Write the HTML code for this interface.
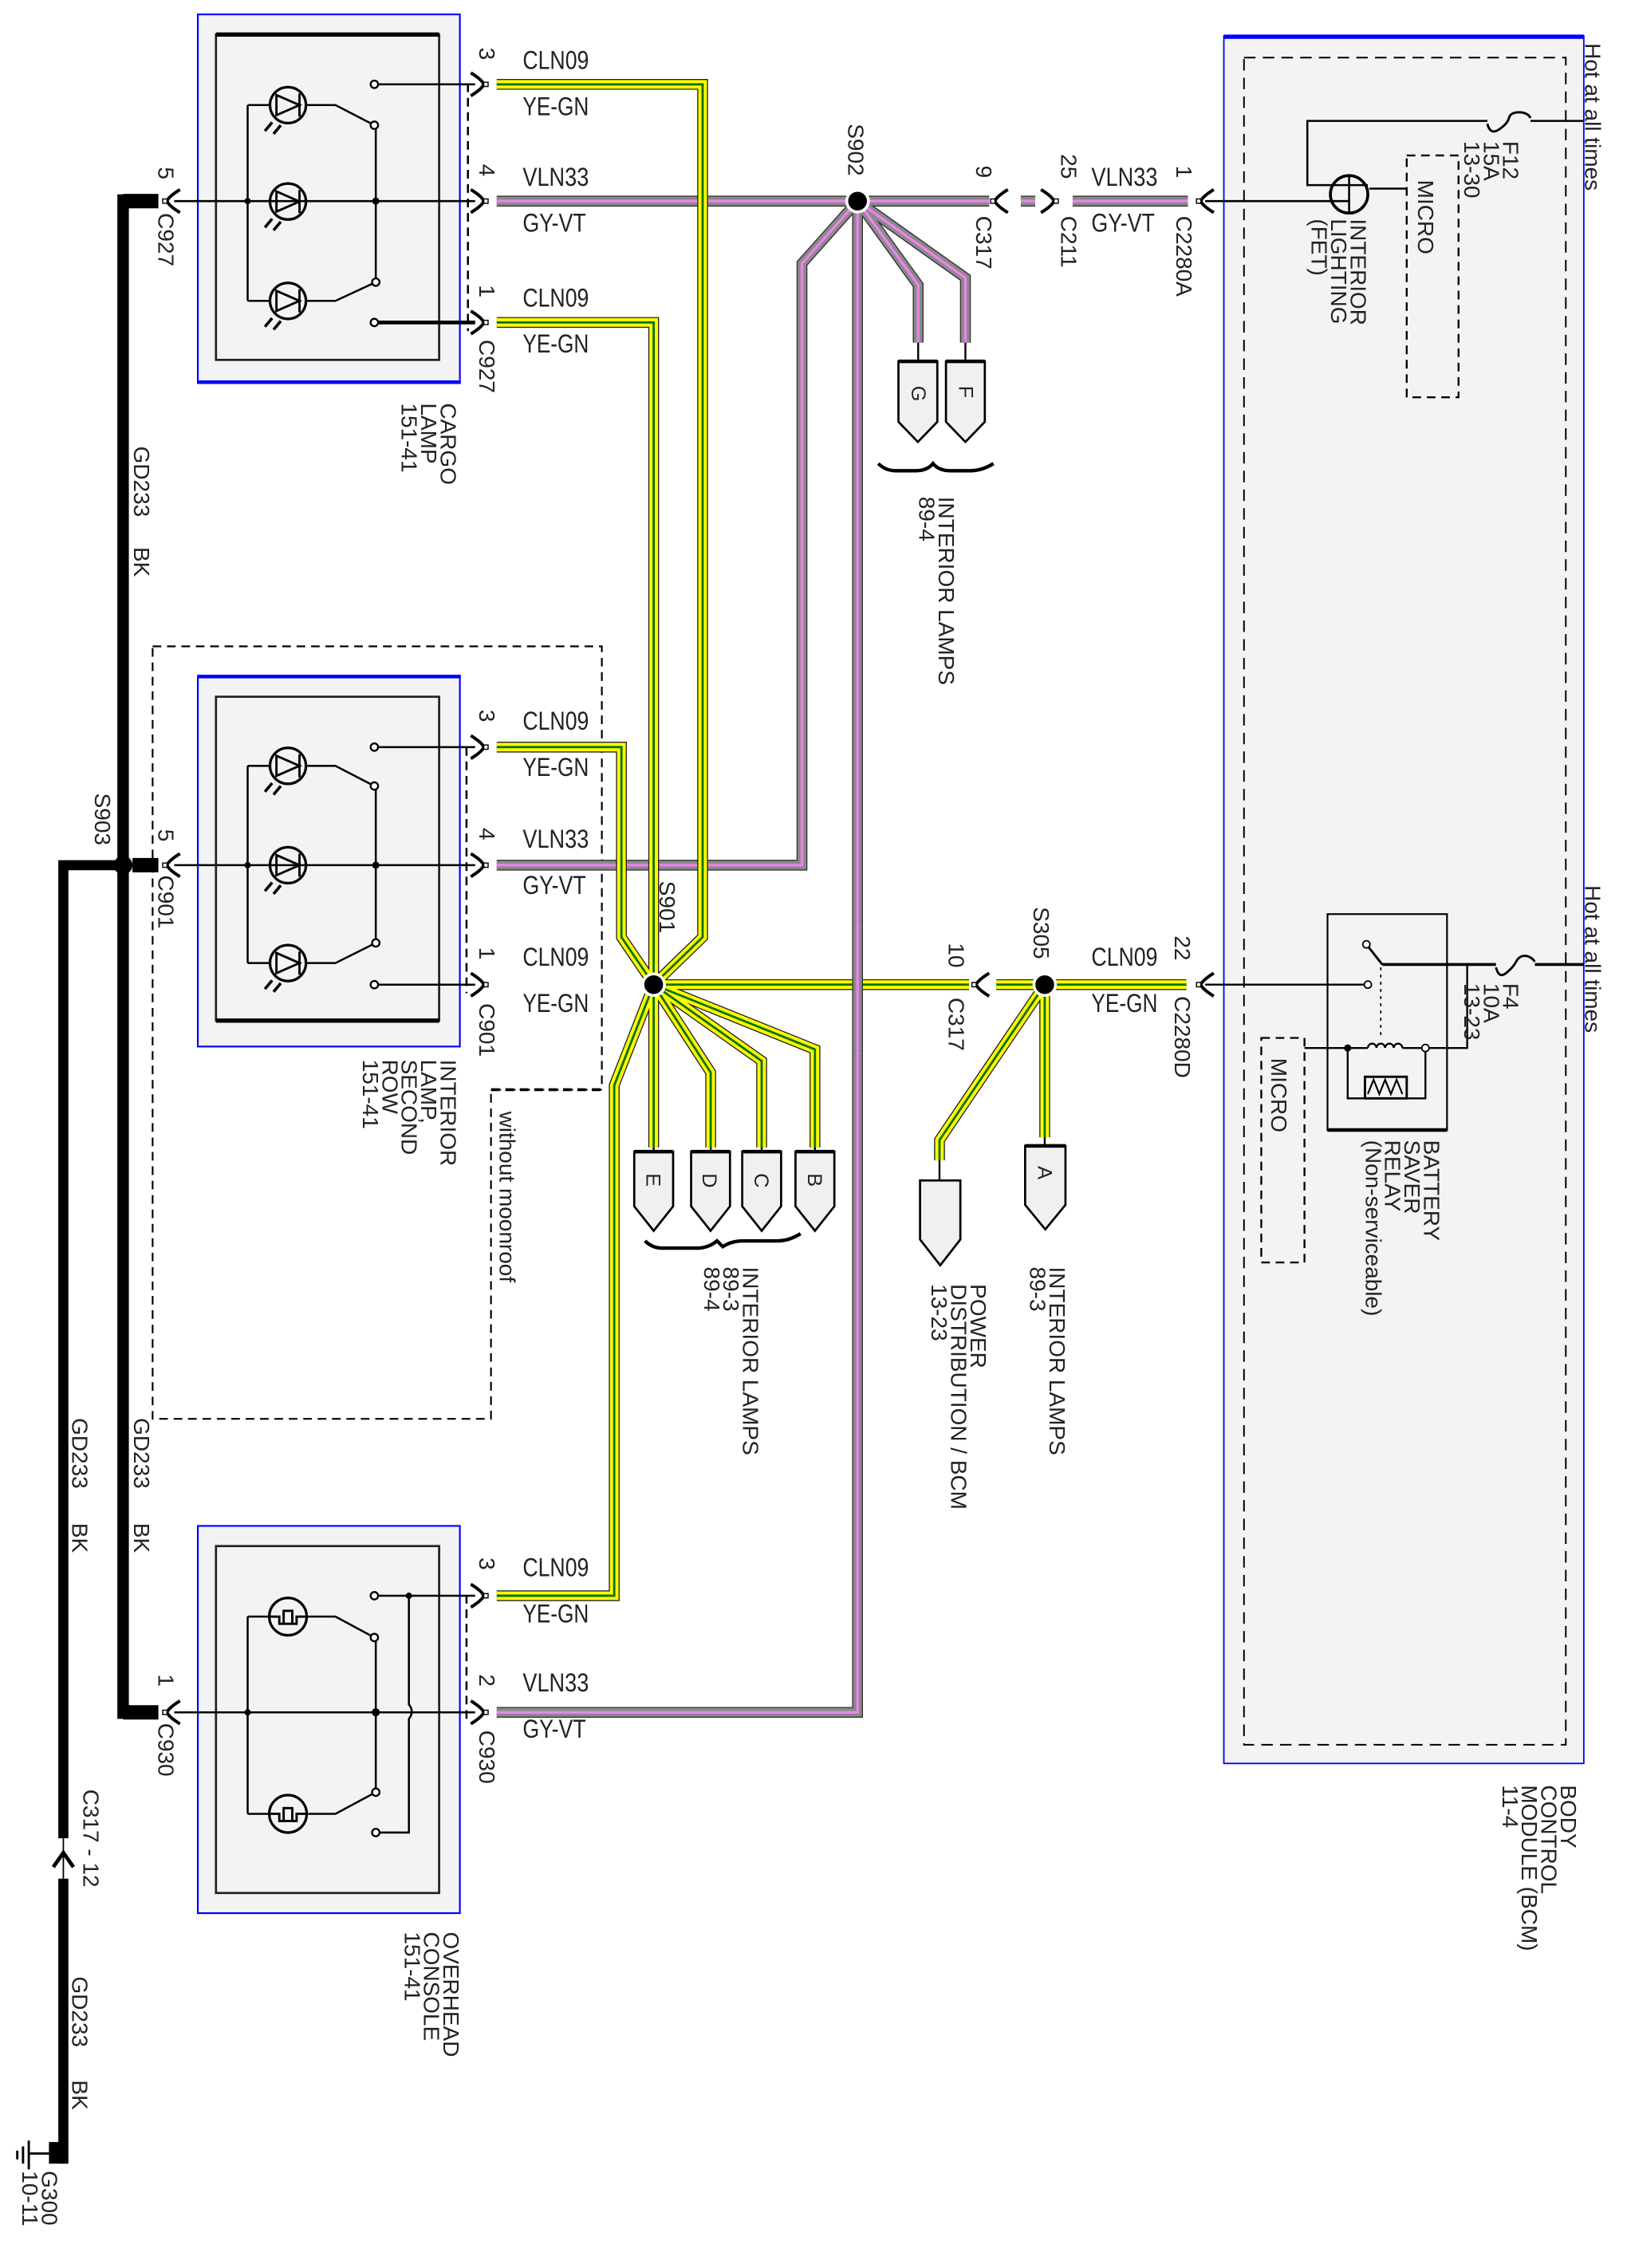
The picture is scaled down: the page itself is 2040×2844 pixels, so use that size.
<!DOCTYPE html>
<html><head><meta charset="utf-8"><style>
html,body{margin:0;padding:0;background:#fff}
svg{display:block}
text{font-family:"Liberation Sans",sans-serif;fill:#222}
.w{font-size:18px}
.r{font-size:15.5px}
</style></head><body>
<svg width="2040" height="2844" viewBox="0 0 1130 1575.5" preserveAspectRatio="none" xmlns="http://www.w3.org/2000/svg">
<defs>
<path id="y1" d="M345,58.6 H488 V651 L454,684"/>
<path id="y2" d="M345,224 H454 V684"/>
<path id="y3" d="M345,519 H431.6 V651 L454,684"/>
<path id="y4" d="M345,1108.5 H426.6 V754 L454,684"/>
<path id="y5" d="M454,684 H673"/>
<path id="y6" d="M692,684 H824"/>
<path id="y7" d="M454,684 V797"/>
<path id="y8" d="M454,684 L493.6,745 V797"/>
<path id="y9" d="M454,684 L529,737 V797"/>
<path id="y10" d="M454,684 L566,729 V797"/>
<path id="y11" d="M725.6,684 L652.5,792 V806"/>
<path id="y12" d="M725.6,684 V790"/>
<path id="g1" d="M345,139.7 H687"/>
<path id="g2" d="M709,139.7 H719"/>
<path id="g3" d="M745,139.7 H825"/>
<path id="g4" d="M595.6,139.7 L557,183 V601 H345"/>
<path id="g5" d="M595.6,139.7 V1189.5 H345"/>
<path id="g5b" d="M595.6,640 V730"/>
<path id="g6" d="M595.6,139.7 L637.7,198 V238"/>
<path id="g7" d="M595.6,139.7 L670.5,193 V238"/>
<g id="conR"><path d="M-6,-8 Q2,-3 3,0 Q2,3 -6,8" fill="none" stroke="#000" stroke-width="2.2"/><rect x="3" y="-1.5" width="3" height="3" fill="#fff" stroke="#000" stroke-width="0.8"/></g>
<g id="conL"><path d="M6,-8 Q-2,-3 -3,0 Q-2,3 6,8" fill="none" stroke="#000" stroke-width="2.2"/><rect x="-6" y="-1.5" width="3" height="3" fill="#fff" stroke="#000" stroke-width="0.8"/></g>
<g id="lampV"><circle r="12.5" fill="none" stroke="#000" stroke-width="1.8"/><path d="M-8,-7 L8,0 L-8,7 Z M8,-8 V8" fill="none" stroke="#000" stroke-width="1.6"/><path d="M-11,12 l-5,6 M-5,14 l-5,6" stroke="#000" stroke-width="2"/></g>
<g id="bulb"><circle r="13" fill="none" stroke="#000" stroke-width="1.8"/><path d="M-13,0 H-6 V5 H6 V0 H13 M-3,5 V-4 H3 V5" fill="none" stroke="#000" stroke-width="1.6"/></g>
</defs>

<rect x="137.4" y="10" width="182" height="256" fill="#f3f3f3" stroke="#00f" stroke-width="1.2"/>
<line x1="137" y1="265.5" x2="320" y2="265.5" stroke="#00f" stroke-width="2.5"/>
<rect x="150" y="24" width="155" height="226" fill="none" stroke="#222" stroke-width="1.5"/>
<line x1="150" y1="24" x2="305" y2="24" stroke="#000" stroke-width="3"/>

<rect x="137.4" y="470" width="182" height="257" fill="#f3f3f3" stroke="#00f" stroke-width="1.2"/>
<line x1="137" y1="470" x2="320" y2="470" stroke="#00f" stroke-width="2.5"/>
<rect x="150" y="484" width="155" height="225" fill="none" stroke="#222" stroke-width="1.5"/>
<line x1="150" y1="709" x2="305" y2="709" stroke="#000" stroke-width="3"/>

<rect x="137.4" y="1060" width="182" height="269" fill="#f3f3f3" stroke="#00f" stroke-width="1.2"/>
<rect x="150" y="1074" width="155" height="241" fill="none" stroke="#222" stroke-width="1.5"/>

<path d="M106,449 H418 V757 H341 V985.6 H106 Z" fill="none" stroke="#000" stroke-width="1.2" stroke-dasharray="6,4"/>
<line x1="341" y1="757" x2="418" y2="757" stroke="#000" stroke-width="2" stroke-dasharray="6,4"/>
<text class="r" transform="translate(347,772) rotate(90)">without moonroof</text>

<rect x="850" y="25" width="250" height="1200" fill="#f3f3f3" stroke="#00f" stroke-width="1"/>
<line x1="850" y1="25.5" x2="1100" y2="25.5" stroke="#00f" stroke-width="3"/>
<rect x="864" y="40" width="223.5" height="1172" fill="none" stroke="#000" stroke-width="1.1" stroke-dasharray="8,5"/>
<rect x="977" y="108" width="36" height="168" fill="none" stroke="#000" stroke-width="1.3" stroke-dasharray="6,4"/>
<text class="r" transform="translate(985,125) rotate(90)">MICRO</text>
<rect x="876" y="721" width="30" height="156" fill="none" stroke="#000" stroke-width="1.3" stroke-dasharray="6,4"/>
<text class="r" transform="translate(883,735) rotate(90)">MICRO</text>
<path d="M1100,84 H1063 M1033,84 H908 V128.6 H924" fill="none" stroke="#000" stroke-width="1.4"/>
<path d="M1033,86 q2,8 8,4 t7,-8 t7,-4 t8,4" fill="none" stroke="#000" stroke-width="1.6"/>
<ellipse cx="937" cy="135" rx="13" ry="13" fill="none" stroke="#000" stroke-width="2"/>
<path d="M924,128.6 H950 M937,122 V148 M951,131 H977" fill="none" stroke="#000" stroke-width="1.4"/>
<line x1="837" y1="139.7" x2="937" y2="139.7" stroke="#000" stroke-width="1.4"/>
<rect x="922" y="635" width="83" height="150" fill="none" stroke="#000" stroke-width="1.2"/>
<line x1="922" y1="785" x2="1005" y2="785" stroke="#000" stroke-width="2.5"/>
<path d="M1100,670 H1066 M1039,670 H960" fill="none" stroke="#000" stroke-width="2"/>
<path d="M1039,672 q2,8 7,4 t7,-8 t6,-4 t7,4" fill="none" stroke="#000" stroke-width="1.6"/>
<path d="M960,670 L949,656" stroke="#000" stroke-width="1.6"/>
<circle cx="949" cy="656" r="2.5" fill="#fff" stroke="#000"/>
<line x1="837" y1="684" x2="948" y2="684" stroke="#000" stroke-width="1.3"/>
<circle cx="950" cy="684" r="2.5" fill="#fff" stroke="#000"/>
<line x1="959" y1="672" x2="959" y2="720" stroke="#000" stroke-width="1" stroke-dasharray="2,3"/>
<path d="M1019,670 V728 H990 M906,728 H936 M936,728 V763 H948 M977,763 H990 V728" fill="none" stroke="#000" stroke-width="1.3"/>
<path d="M950,728 a3,3 0 0 1 6,0 a3,3 0 0 1 6,0 a3,3 0 0 1 6,0 a3,3 0 0 1 6,0" fill="none" stroke="#000" stroke-width="1.3"/>
<path d="M936,728 H950 M974,728 H990" stroke="#000" stroke-width="1.3"/>
<circle cx="936" cy="728" r="2.5" fill="#000"/><circle cx="990" cy="728" r="2.5" fill="#fff" stroke="#000"/>
<rect x="948" y="748" width="29" height="15" fill="none" stroke="#000" stroke-width="1.6"/>
<path d="M950,760 l4,-10 l4,10 l4,-10 l4,10 l4,-10 l4,10" fill="none" stroke="#000" stroke-width="1.2"/>
<text class="r" transform="translate(1101,30) rotate(90)">Hot at all times</text>
<text class="r" transform="translate(1101,615) rotate(90)">Hot at all times</text>
<text class="r" transform="translate(1044,98) rotate(90)"><tspan x="0">F12</tspan><tspan x="0" dy="13.5">15A</tspan><tspan x="0" dy="13.5">13-30</tspan></text>
<text class="r" transform="translate(1044,683) rotate(90)"><tspan x="0">F4</tspan><tspan x="0" dy="13.5">10A</tspan><tspan x="0" dy="13.5">13-23</tspan></text>
<text class="r" transform="translate(938,152) rotate(90)"><tspan x="0">INTERIOR</tspan><tspan x="0" dy="13.5">LIGHTING</tspan><tspan x="0" dy="13.5">(FET)</tspan></text>
<text class="r" transform="translate(989,792) rotate(90)"><tspan x="0">BATTERY</tspan><tspan x="0" dy="13.5">SAVER</tspan><tspan x="0" dy="13.5">RELAY</tspan><tspan x="0" dy="13.5">(Non-serviceable)</tspan></text>
<text class="r" transform="translate(1084,1240) rotate(90)"><tspan x="0">BODY</tspan><tspan x="0" dy="13.5">CONTROL</tspan><tspan x="0" dy="13.5">MODULE (BCM)</tspan><tspan x="0" dy="13.5">11-4</tspan></text>

<g fill="none" stroke-linejoin="miter">
<g stroke="#333" stroke-width="7.5"><use href="#g1"/><use href="#g2"/><use href="#g3"/><use href="#g4"/><use href="#g5"/><use href="#g6"/><use href="#g7"/></g>
<g stroke="#8a8a8a" stroke-width="6"><use href="#g1"/><use href="#g2"/><use href="#g3"/><use href="#g4"/><use href="#g5"/><use href="#g6"/><use href="#g7"/></g>
<g stroke="#ee82ee" stroke-width="1.8"><use href="#g1"/><use href="#g2"/><use href="#g3"/><use href="#g4"/><use href="#g5"/><use href="#g6"/><use href="#g7"/></g>
<g stroke="#222" stroke-width="7.5"><use href="#y1"/><use href="#y2"/><use href="#y3"/><use href="#y4"/><use href="#y5"/><use href="#y6"/><use href="#y7"/><use href="#y8"/><use href="#y9"/><use href="#y10"/><use href="#y11"/><use href="#y12"/></g>
<g stroke="#ffff00" stroke-width="6"><use href="#y1"/><use href="#y2"/><use href="#y3"/><use href="#y4"/><use href="#y5"/><use href="#y6"/><use href="#y7"/><use href="#y8"/><use href="#y9"/><use href="#y10"/><use href="#y11"/><use href="#y12"/></g>
<g stroke="#107010" stroke-width="1.6"><use href="#y1"/><use href="#y2"/><use href="#y3"/><use href="#y4"/><use href="#y5"/><use href="#y6"/><use href="#y7"/><use href="#y8"/><use href="#y9"/><use href="#y10"/><use href="#y11"/><use href="#y12"/></g>
<use href="#g5b" stroke="#333" stroke-width="7.5"/><use href="#g5b" stroke="#8a8a8a" stroke-width="6"/><use href="#g5b" stroke="#ee82ee" stroke-width="1.8"/>
</g>

<g stroke="#000" stroke-width="1.3" fill="none">
<path d="M637.7,238 V251 M670.5,238 V251 M454,797 V800 M493.6,797 V800 M529,797 V800 M566,797 V800 M725.6,790 V796 M652.5,806 V820"/>
</g>
<g fill="#f0f0f0" stroke="#000" stroke-width="1.5">
<path d="M624,251 H651 V293 L637.5,307 L624,293 Z"/>
<path d="M657,251 H684 V293 L670.5,307 L657,293 Z"/>
<path d="M440.5,800 H467.5 V838 L454,855 L440.5,838 Z"/>
<path d="M480,800 H507 V838 L493.5,855 L480,838 Z"/>
<path d="M515.5,800 H542.5 V838 L529,855 L515.5,838 Z"/>
<path d="M552.5,800 H579.5 V838 L566,855 L552.5,838 Z"/>
<path d="M712,796 H740 V837 L726,854 L712,837 Z"/>
<path d="M639,820 H667 V861 L653,879 L639,861 Z"/>
</g>
<g stroke="#000" stroke-width="2.5"><path d="M624,251 H651 M657,251 H684 M440.5,800 H467.5 M480,800 H507 M515.5,800 H542.5 M552.5,800 H579.5 M712,796 H740"/></g>
<g font-size="14">
<text transform="translate(633,268) rotate(90)">G</text>
<text transform="translate(666,268) rotate(90)">F</text>
<text transform="translate(449,815) rotate(90)">E</text>
<text transform="translate(488,815) rotate(90)">D</text>
<text transform="translate(524,815) rotate(90)">C</text>
<text transform="translate(561,815) rotate(90)">B</text>
<text transform="translate(721,810) rotate(90)">A</text>
</g>
<path d="M610,322 q5,5 12,5 h14 q8,0 12,-5 q4,5 12,5 h14 q8,0 16,-5" fill="none" stroke="#000" stroke-width="2.4"/>
<path d="M448,862 q5,5 12,5 h24 q8,0 14,-5 l4,4 q6,-4 14,-4 h24 q8,0 16,-5" fill="none" stroke="#000" stroke-width="2.4"/>
<text class="r" transform="translate(652,345) rotate(90)"><tspan x="0">INTERIOR LAMPS</tspan><tspan x="0" dy="13.5">89-4</tspan></text>
<text class="r" transform="translate(516,880) rotate(90)"><tspan x="0">INTERIOR LAMPS</tspan><tspan x="0" dy="13.5">89-3</tspan><tspan x="0" dy="13.5">89-4</tspan></text>
<text class="r" transform="translate(729,880) rotate(90)"><tspan x="0">INTERIOR LAMPS</tspan><tspan x="0" dy="13.5">89-3</tspan></text>
<text class="r" transform="translate(674,892) rotate(90)"><tspan x="0">POWER</tspan><tspan x="0" dy="13.5">DISTRIBUTION / BCM</tspan><tspan x="0" dy="13.5">13-23</tspan></text>

<g fill="#000" stroke="#fff" stroke-width="2">
<circle cx="595.6" cy="139.7" r="7.5"/>
<circle cx="454" cy="684" r="7.5"/>
<circle cx="725.6" cy="684" r="7.5"/>
<circle cx="85.5" cy="601" r="7.5"/>
</g>
<text class="r" transform="translate(589,86) rotate(90)">S902</text>
<text class="r" transform="translate(458,612) rotate(90)">S901</text>
<text class="r" transform="translate(718,630) rotate(90)">S305</text>
<text class="r" transform="translate(66,551) rotate(90)">S903</text>

<g stroke="#000" fill="none">
<path d="M85.5,135 V1194" stroke-width="8"/>
<path d="M85.5,139.7 H110 M85.5,1189.5 H110 M92,601 H110" stroke-width="10"/>
<path d="M85.5,601 H44 V1277" stroke-width="7"/>
<path d="M44,1305 V1503" stroke-width="7"/>
<rect x="34" y="1488" width="13" height="15" fill="#000" stroke="none"/>
<path d="M34,1496 H20 M20,1487 V1507 M16,1491 V1503 M12,1494 V1500" stroke-width="1.6"/>
<path d="M44,1277 V1305" stroke-width="1"/>
<path d="M37,1297 L44,1287 L51,1297" stroke-width="2.6"/>
</g>
<g class="r">
<text transform="translate(93,310) rotate(90)">GD233</text><text transform="translate(93,380) rotate(90)">BK</text>
<text transform="translate(93,985) rotate(90)">GD233</text><text transform="translate(93,1058) rotate(90)">BK</text>
<text transform="translate(50,985) rotate(90)">GD233</text><text transform="translate(50,1058) rotate(90)">BK</text>
<text transform="translate(50,1373) rotate(90)">GD233</text><text transform="translate(50,1445) rotate(90)">BK</text>
</g>
<text class="r" transform="translate(58,1243) rotate(90)">C317 - 12</text>
<text class="r" transform="translate(29,1508) rotate(90)"><tspan x="0">G300</tspan><tspan x="0" dy="13.5">10-11</tspan></text>

<g stroke="#000" stroke-width="1.4" fill="none">
<path d="M121,139.7 H330"/>
<path d="M260,58.6 H330"/>
<path d="M260,224 H330" stroke-width="2.6"/>
<path d="M172,73 V209 M172,73 H188 M212,73 H233 L260,87 M172,209 H188 M212,209 H233 L261,196 M261,87 V196"/>
<path d="M121,601 H330 M260,519 H330 M260,684 H330"/>
<path d="M172,532 V669 M172,532 H188 M212,532 H233 L260,546 M172,669 H188 M212,669 H233 L261,655 M261,546 V655"/>
<path d="M121,1189.5 H330 M260,1108.5 H330"/>
<path d="M172,1123 V1260 M172,1123 H187 M213,1123 H233 L260,1137.5 M172,1260 H187 M214,1260 H233 L261,1245 M261,1137.5 V1245"/>
<path d="M284,1108.5 V1184 q4,5 0,10 V1273 H262"/>
</g>
<g fill="#000">
<circle cx="172" cy="139.7" r="2.2"/><circle cx="261" cy="139.7" r="2.5"/>
<circle cx="172" cy="601" r="2.2"/><circle cx="261" cy="601" r="2.5"/>
<circle cx="172" cy="1189.5" r="2.2"/><circle cx="261" cy="1189.5" r="2.8"/><circle cx="284" cy="1108.5" r="2.2"/>
</g>
<g fill="#fff" stroke="#000" stroke-width="1.3">
<circle cx="260" cy="58.6" r="2.6"/><circle cx="260" cy="87" r="2.6"/><circle cx="261" cy="196" r="2.6"/><circle cx="260" cy="224" r="2.6"/>
<circle cx="260" cy="519" r="2.6"/><circle cx="260" cy="546" r="2.6"/><circle cx="261" cy="655" r="2.6"/><circle cx="260" cy="684" r="2.6"/>
<circle cx="260" cy="1108.5" r="2.6"/><circle cx="260" cy="1137.5" r="2.6"/><circle cx="261" cy="1245" r="2.6"/><circle cx="261" cy="1273" r="2.6"/>
</g>
<use href="#lampV" x="200" y="73"/><use href="#lampV" x="200" y="140"/><use href="#lampV" x="200" y="209"/>
<use href="#lampV" x="200" y="532"/><use href="#lampV" x="200" y="601"/><use href="#lampV" x="200" y="669"/>
<use href="#bulb" x="200" y="1123"/><use href="#bulb" x="200" y="1260"/>
<line x1="325" y1="58" x2="325" y2="230" stroke="#000" stroke-width="1.4" stroke-dasharray="6,4"/>
<line x1="324" y1="519" x2="324" y2="690" stroke="#000" stroke-width="1.4" stroke-dasharray="6,4"/>
<line x1="324" y1="1108" x2="324" y2="1195" stroke="#000" stroke-width="1.4" stroke-dasharray="6,4"/>

<use href="#conR" x="333" y="58.6"/><use href="#conR" x="333" y="139.7"/><use href="#conR" x="333" y="224"/>
<use href="#conR" x="333" y="519"/><use href="#conR" x="333" y="601"/><use href="#conR" x="333" y="684"/>
<use href="#conR" x="333" y="1108.5"/><use href="#conR" x="333" y="1189.5"/>
<use href="#conL" x="119" y="139.7"/><use href="#conL" x="119" y="601"/><use href="#conL" x="119" y="1189.5"/>
<use href="#conL" x="694" y="139.7"/><use href="#conR" x="729" y="139.7"/><use href="#conL" x="837" y="139.7"/>
<use href="#conL" x="681" y="684"/><use href="#conL" x="837" y="684"/>

<g class="w">
<text x="363" y="48" textLength="46" lengthAdjust="spacingAndGlyphs">CLN09</text>
<text x="363" y="80" textLength="46" lengthAdjust="spacingAndGlyphs">YE-GN</text>
<text x="363" y="129" textLength="46" lengthAdjust="spacingAndGlyphs">VLN33</text>
<text x="363" y="161" textLength="44" lengthAdjust="spacingAndGlyphs">GY-VT</text>
<text x="363" y="213" textLength="46" lengthAdjust="spacingAndGlyphs">CLN09</text>
<text x="363" y="245" textLength="46" lengthAdjust="spacingAndGlyphs">YE-GN</text>
<text x="363" y="507" textLength="46" lengthAdjust="spacingAndGlyphs">CLN09</text>
<text x="363" y="539" textLength="46" lengthAdjust="spacingAndGlyphs">YE-GN</text>
<text x="363" y="589" textLength="46" lengthAdjust="spacingAndGlyphs">VLN33</text>
<text x="363" y="621" textLength="44" lengthAdjust="spacingAndGlyphs">GY-VT</text>
<text x="363" y="671" textLength="46" lengthAdjust="spacingAndGlyphs">CLN09</text>
<text x="363" y="703" textLength="46" lengthAdjust="spacingAndGlyphs">YE-GN</text>
<text x="363" y="1095" textLength="46" lengthAdjust="spacingAndGlyphs">CLN09</text>
<text x="363" y="1127" textLength="46" lengthAdjust="spacingAndGlyphs">YE-GN</text>
<text x="363" y="1175" textLength="46" lengthAdjust="spacingAndGlyphs">VLN33</text>
<text x="363" y="1207" textLength="44" lengthAdjust="spacingAndGlyphs">GY-VT</text>
<text x="758" y="129" textLength="46" lengthAdjust="spacingAndGlyphs">VLN33</text>
<text x="758" y="161" textLength="44" lengthAdjust="spacingAndGlyphs">GY-VT</text>
<text x="758" y="671" textLength="46" lengthAdjust="spacingAndGlyphs">CLN09</text>
<text x="758" y="703" textLength="46" lengthAdjust="spacingAndGlyphs">YE-GN</text>
</g>
<g class="r">
<text transform="translate(333,33) rotate(90)">3</text>
<text transform="translate(333,114) rotate(90)">4</text>
<text transform="translate(333,198) rotate(90)">1</text>
<text transform="translate(333,236) rotate(90)">C927</text>
<text transform="translate(110,116) rotate(90)">5</text>
<text transform="translate(110,148) rotate(90)">C927</text>
<text transform="translate(333,493) rotate(90)">3</text>
<text transform="translate(333,575) rotate(90)">4</text>
<text transform="translate(333,658) rotate(90)">1</text>
<text transform="translate(333,697) rotate(90)">C901</text>
<text transform="translate(110,576) rotate(90)">5</text>
<text transform="translate(110,608) rotate(90)">C901</text>
<text transform="translate(333,1082) rotate(90)">3</text>
<text transform="translate(333,1163) rotate(90)">2</text>
<text transform="translate(333,1202) rotate(90)">C930</text>
<text transform="translate(110,1163) rotate(90)">1</text>
<text transform="translate(110,1197) rotate(90)">C930</text>
<text transform="translate(678,115) rotate(90)">9</text>
<text transform="translate(678,150) rotate(90)">C317</text>
<text transform="translate(737,107) rotate(90)">25</text>
<text transform="translate(737,150) rotate(90)">C211</text>
<text transform="translate(817,115) rotate(90)">1</text>
<text transform="translate(817,150) rotate(90)">C2280A</text>
<text transform="translate(659,655) rotate(90)">10</text>
<text transform="translate(659,693) rotate(90)">C317</text>
<text transform="translate(816,650) rotate(90)">22</text>
<text transform="translate(816,692) rotate(90)">C2280D</text>
</g>
<text class="r" transform="translate(306,280) rotate(90)"><tspan x="0">CARGO</tspan><tspan x="0" dy="13.5">LAMP</tspan><tspan x="0" dy="13.5">151-41</tspan></text>
<text class="r" transform="translate(306,736) rotate(90)"><tspan x="0">INTERIOR</tspan><tspan x="0" dy="13.5">LAMP,</tspan><tspan x="0" dy="13.5">SECOND</tspan><tspan x="0" dy="13.5">ROW</tspan><tspan x="0" dy="13.5">151-41</tspan></text>
<text class="r" transform="translate(308,1342) rotate(90)"><tspan x="0">OVERHEAD</tspan><tspan x="0" dy="13.5">CONSOLE</tspan><tspan x="0" dy="13.5">151-41</tspan></text>
</svg>
</body></html>
